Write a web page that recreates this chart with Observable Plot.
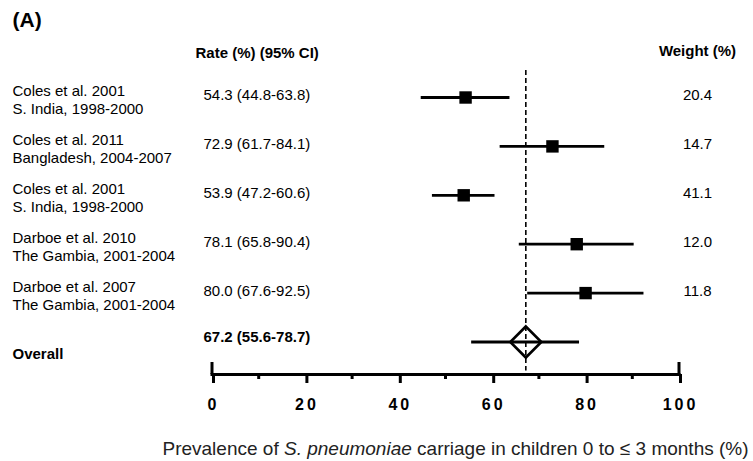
<!DOCTYPE html>
<html>
<head>
<meta charset="utf-8">
<script src="https://cdn.jsdelivr.net/npm/d3@7"></script>
<script src="https://cdn.jsdelivr.net/npm/@observablehq/plot@0.6"></script>
<style>
  body { margin: 0; background: #fff; color: #000; }
  svg { font-family: "Liberation Sans", Arial, sans-serif; }
</style>
</head>
<body>
<div id="chart"></div>
<script>
// ---- data ----
const studies = ["Coles et al. 2001", "Coles et al. 2011", "Coles et al. 2001", "Darboe et al. 2010", "Darboe et al. 2007"];
const settings = ["S. India, 1998-2000", "Bangladesh, 2004-2007", "S. India, 1998-2000", "The Gambia, 2001-2004", "The Gambia, 2001-2004"];
const rates = [54.3, 72.9, 53.9, 78.1, 80.0];
const lowers = [44.8, 61.7, 47.2, 65.8, 67.6];
const uppers = [63.8, 84.1, 60.6, 90.4, 92.5];
const weights = [20.4, 14.7, 41.1, 12.0, 11.8];
const overall = {label: "Overall", rate: 67.2, lower: 55.6, upper: 78.7};
const majorTicks = [0, 20, 40, 60, 80, 100];
const minorTicks = [10, 30, 50, 70, 90];
const endTicks = [0, 100];
const titleText = "(A)";
const rateHeader = "Rate (%) (95% CI)";
const weightHeader = "Weight (%)";
const axisTitleParts = [["Prevalence of ", "normal"], ["S. pneumoniae", "italic"], [" carriage in children 0 to \u2264 3 months (%)", "normal"]];

const rows = studies.map((s, i) => ({
  row: i, study: s, setting: settings[i], rate: rates[i], lower: lowers[i], upper: uppers[i], weight: weights[i]
}));
const overallRow = {...overall, row: rows.length};
const fmt = v => v.toFixed(1);

const fs = 15;
const chart = Plot.plot({
  width: 753,
  height: 461,
  marginLeft: 211.5,
  marginRight: 74.5,
  marginTop: 0,
  marginBottom: 87,
  style: {fontFamily: "Liberation Sans, Arial, sans-serif", background: "#fff", color: "#000"},
  x: {domain: [0, 100]},
  y: {domain: [0, rows.length], range: [97, 341.5], axis: null},
  marks: [
    // reference dashed line at overall estimate
    Plot.ruleX([overallRow], {x: "rate", y1: 0, y2: rows.length, insetTop: -27, insetBottom: -29,
      stroke: "#000", strokeWidth: 1.6, strokeDasharray: "5,3"}),
    // CIs
    Plot.ruleY(rows, {y: "row", x1: "lower", x2: "upper", stroke: "#000", strokeWidth: 2.8}),
    Plot.dot(rows, {x: "rate", y: "row", symbol: "square", r: 7, fill: "#000", stroke: null}),
    // overall
    Plot.ruleY([overallRow], {y: "row", x1: "lower", x2: "upper", stroke: "#000", strokeWidth: 2.8}),
    Plot.dot([overallRow], {x: "rate", y: "row", symbol: "diamond2", r: 14, fill: "none", stroke: "#000", strokeWidth: 2.6}),
    // axis
    Plot.frame({anchor: "bottom", stroke: "#000", strokeWidth: 3}),
    Plot.axisX({ticks: minorTicks, tickSize: 5, strokeWidth: 3, tickFormat: () => "", label: null}),
    Plot.axisX({ticks: endTicks, tickSize: 12, dy: -12, strokeWidth: 3, tickFormat: () => "", label: null}),
    Plot.axisX({ticks: majorTicks, tickSize: 9, tickPadding: 15, strokeWidth: 3, fontSize: 16, fontWeight: "bold", label: null, dx: 1.5}),
    // left labels
    Plot.text(rows, {y: "row", text: d => d.study + "\n" + d.setting, frameAnchor: "left", dx: -199.5, dy: 2,
      textAnchor: "start", lineAnchor: "middle", lineHeight: 1.2, fontSize: fs}),
    Plot.text(rows, {y: "row", text: d => `${fmt(d.rate)} (${fmt(d.lower)}-${fmt(d.upper)})`, frameAnchor: "left", dx: -8.5, dy: -2,
      textAnchor: "start", lineAnchor: "middle", fontSize: fs}),
    Plot.text(rows, {y: "row", text: d => fmt(d.weight), frameAnchor: "right", dx: 18.5, dy: -2,
      textAnchor: "middle", lineAnchor: "middle", fontSize: fs}),
    Plot.text([overallRow], {y: "row", text: "label", frameAnchor: "left", dx: -199.5, dy: 12,
      textAnchor: "start", lineAnchor: "middle", fontSize: fs, fontWeight: "bold"}),
    Plot.text([overallRow], {y: "row", text: d => `${fmt(d.rate)} (${fmt(d.lower)}-${fmt(d.upper)})`, frameAnchor: "left", dx: -8.5, dy: -4.5,
      textAnchor: "start", lineAnchor: "middle", fontSize: fs, fontWeight: "bold"}),
    // headers
    Plot.text([titleText], {text: d => d, frameAnchor: "top-left", dx: -199.5, dy: 20, textAnchor: "start", lineAnchor: "middle",
      fontSize: 21, fontWeight: "bold"}),
    Plot.text([rateHeader], {text: d => d, frameAnchor: "top-left", dx: -16.5, dy: 53, textAnchor: "start", lineAnchor: "middle",
      fontSize: fs, fontWeight: "bold"}),
    Plot.text([weightHeader], {text: d => d, frameAnchor: "top-right", dx: 18.5, dy: 51, textAnchor: "middle", lineAnchor: "middle",
      fontSize: fs, fontWeight: "bold"}),
    // axis title
    Plot.text([axisTitleParts.map(p => p[0]).join("")], {text: d => d, frameAnchor: "bottom", dx: 10, dy: 74,
      textAnchor: "middle", lineAnchor: "middle", fontSize: 19, fill: "#222"})
  ]
});

// letter spacing on tick labels
chart.querySelectorAll('g[aria-label="x-axis tick label"] text').forEach(t => t.setAttribute("letter-spacing", "3"));
// italic part of axis title
const full = axisTitleParts.map(p => p[0]).join("");
chart.querySelectorAll("text").forEach(t => {
  if (t.textContent === full) {
    t.textContent = "";
    axisTitleParts.forEach(([s, st]) => {
      const ts = document.createElementNS("http://www.w3.org/2000/svg", "tspan");
      ts.textContent = s;
      if (st === "italic") ts.setAttribute("font-style", "italic");
      t.appendChild(ts);
    });
  }
});
document.getElementById("chart").appendChild(chart);
</script>
</body>
</html>
